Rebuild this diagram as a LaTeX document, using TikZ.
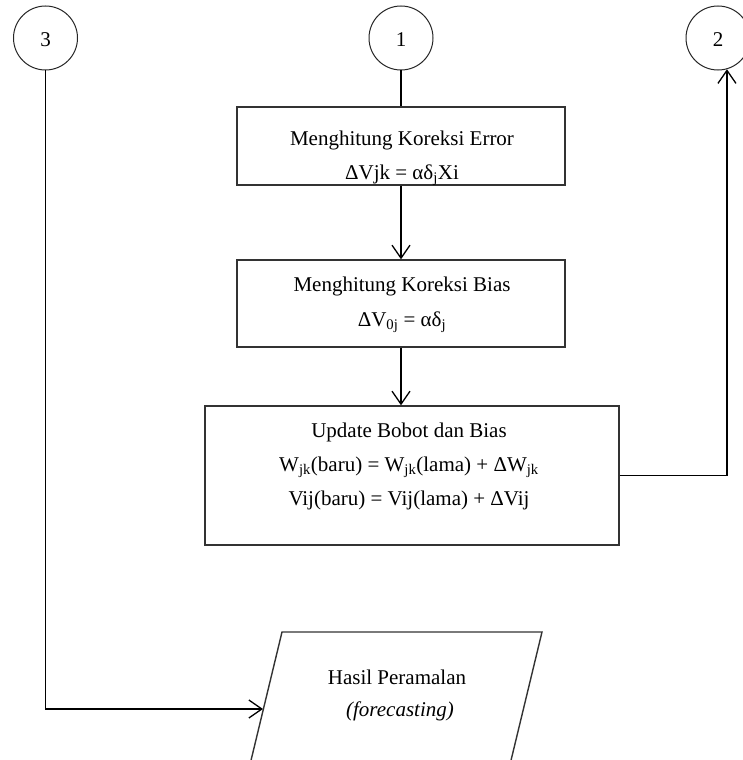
\documentclass[tikz,border=0pt]{standalone}
\usepackage{fontspec}
\setmainfont{Liberation Serif}
\usetikzlibrary{arrows.meta,calc}
\begin{document}
\begin{tikzpicture}[x=1pt,y=-1pt,
  conn/.style={line width=1.3pt, draw=black},
  arr/.style={conn, -{Straight Barb[length=13pt,width=18pt,line width=1.3pt]}},
  box/.style={draw=black!80, line width=1.4pt, rectangle, inner sep=0pt},
  circ/.style={draw=black!85, line width=1pt, circle, minimum size=64pt, inner sep=0pt},
  txt/.style={inner sep=0pt, anchor=base, font=\fontsize{21}{25}\selectfont}
]
\useasboundingbox (0,0) rectangle (743,760);

% connector circles
\node[circ] (c3) at (45.5,38) {};
\node[circ] (c1) at (401,38) {};
\node[circ] (c2) at (718,38) {};
\node[txt] (t3) at (45.5,47) {3};
\node[txt] (t1) at (401,47) {1};
\node[txt] (t2) at (718,47) {2};

% boxes
\node[box, minimum width=328pt, minimum height=78pt] (b1) at (401,146) {};
\node[box, minimum width=328pt, minimum height=87pt] (b2) at (401,303.5) {};
\node[box, minimum width=414pt, minimum height=139pt] (b3) at (412,475.5) {};

% box texts
\node[txt] (b1a) at (402,145) {Menghitung Koreksi Error};
\node[txt] (b1b) at (402,179) {ΔVjk = αδ\textsubscript{j}Xi};
\node[txt] (b2a) at (402,291) {Menghitung Koreksi Bias};
\node[txt] (b2b) at (402,326) {ΔV\textsubscript{0j} = αδ\textsubscript{j}};
\node[txt] (b3a) at (409,437) {Update Bobot dan Bias};
\node[txt] (b3b) at (409,471) {W\textsubscript{jk}(baru) = W\textsubscript{jk}(lama) + ΔW\textsubscript{jk}};
\node[txt] (b3c) at (409,505) {Vij(baru) = Vij(lama) + ΔVij};

% parallelogram (output)
\coordinate (p1) at (282,632);
\coordinate (p2) at (542,632);
\coordinate (p3) at (508.2,772);
\coordinate (p4) at (248.2,772);
\draw[box] (p1) -- (p2) -- (p3) -- (p4) -- cycle;
\coordinate (pin) at (263,709);
\node[txt] (pa) at (397,684) {Hasil Peramalan};
\node[txt] (pb) at (400,716) {\itshape (forecasting)};

% connectors
\draw[conn] (c1.south) -- (b1.north -| c1.south);
\draw[arr] (b1.south -| c1.south) -- (b2.north -| c1.south);
\draw[arr] (b2.south -| c1.south) -- (b3.north -| c1.south);
\draw[arr] (b3.east) -| (c2.-74);
\draw[arr] (c3.south) |- (pin);
\end{tikzpicture}
\end{document}
